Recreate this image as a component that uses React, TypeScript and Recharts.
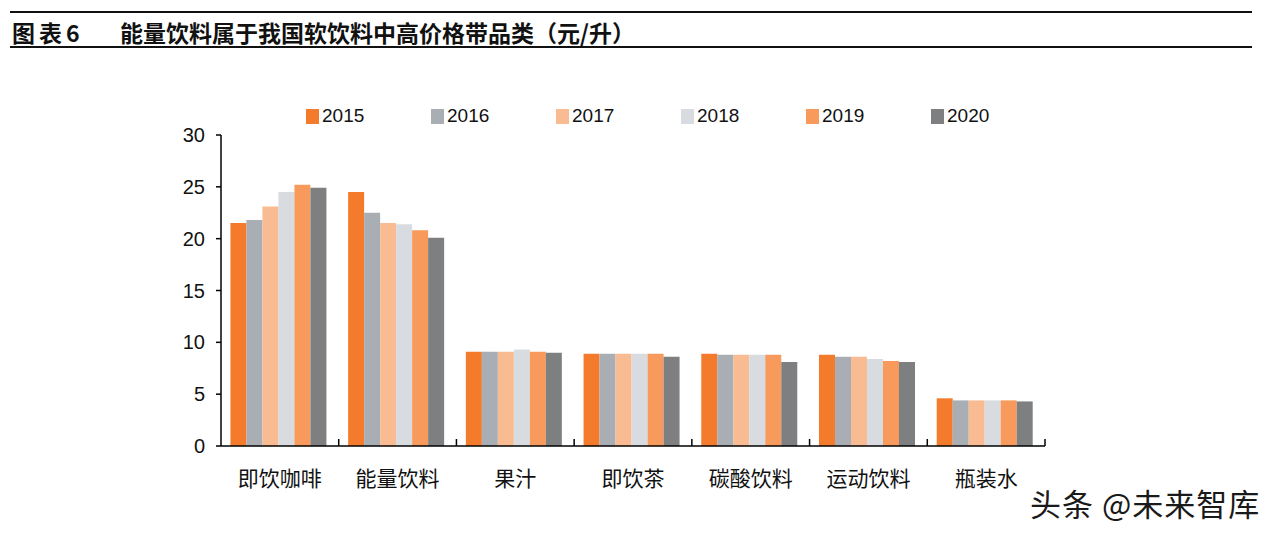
import React from 'react'
import { BarChart, Bar, XAxis, YAxis } from 'recharts'

const categories = ['即饮咖啡', '能量饮料', '果汁', '即饮茶', '碳酸饮料', '运动饮料', '瓶装水']
const years = ['2015', '2016', '2017', '2018', '2019', '2020']
const yTicks = [0, 5, 10, 15, 20, 25, 30]

// 每个年份一组价格（元/升），顺序同 categories
const price2015 = [21.5, 24.5, 9.1, 8.9, 8.9, 8.8, 4.6]
const price2016 = [21.8, 22.5, 9.1, 8.9, 8.8, 8.6, 4.4]
const price2017 = [23.1, 21.5, 9.1, 8.9, 8.8, 8.6, 4.4]
const price2018 = [24.5, 21.4, 9.3, 8.9, 8.8, 8.4, 4.4]
const price2019 = [25.2, 20.8, 9.1, 8.9, 8.8, 8.2, 4.4]
const price2020 = [24.9, 20.1, 9.0, 8.6, 8.1, 8.1, 4.3]

const series = [price2015, price2016, price2017, price2018, price2019, price2020]
const colors = ['#F47B2C', '#A8AEB4', '#F9BC92', '#D8DBDF', '#F79A5B', '#7E7F81']

const data = categories.map((name, i) => {
  const row: { [key: string]: any } = { name }
  years.forEach((y, j) => { row[y] = series[j][i] })
  return row
})

const FONT = '"Liberation Sans", Arial, "Noto Sans CJK SC", sans-serif'
const CJK = '"Noto Sans CJK SC", sans-serif'

const CategoryTick = (props: any) => {
  const { x, y, payload } = props
  const half = payload && payload.offset ? payload.offset : 58.9
  return (
    <g>
      <line x1={x + half} x2={x + half} y1={y} y2={y - 7} stroke="#000" strokeWidth={1.5} />
      <text x={x} y={y + 40} textAnchor="middle" fontSize={21} fill="#111" fontFamily={CJK}>
        {payload.value}
      </text>
    </g>
  )
}

export default function App() {
  return (
    <div style={{ position: 'absolute', left: 0, top: 0, width: 1282, height: 538, background: '#fff', fontFamily: FONT }}>
      <div style={{ position: 'absolute', left: 10, top: 11, width: 1242, height: 2, background: '#111' }} />
      <div style={{ position: 'absolute', left: 12, top: 18, fontSize: 23, fontWeight: 'bold', color: '#111', fontFamily: CJK, lineHeight: '28px', letterSpacing: 4 }}>
        图表6
      </div>
      <div style={{ position: 'absolute', left: 120, top: 18, fontSize: 23, fontWeight: 'bold', color: '#111', fontFamily: CJK, lineHeight: '28px' }}>
        能量饮料属于我国软饮料中高价格带品类（元/升）
      </div>
      <div style={{ position: 'absolute', left: 10, top: 46, width: 1242, height: 1.5, background: '#111' }} />

      {/* 图例 */}
      <div style={{ position: 'absolute', left: 306, top: 105, display: 'flex', fontSize: 19, color: '#111' }}>
        {years.map((y, i) => (
          <div key={y} style={{ width: 125, display: 'flex', alignItems: 'center' }}>
            <span style={{ width: 13, height: 15, background: colors[i], display: 'inline-block', marginRight: 3 }} />
            <span>{y}</span>
          </div>
        ))}
      </div>

      <BarChart
        width={1282}
        height={538}
        data={data}
        margin={{ top: 135, right: 237, bottom: 62, left: 161 }}
        barCategoryGap="8%"
        barGap={0}
        style={{ position: 'absolute', left: 0, top: 0 }}
      >
        <XAxis
          dataKey="name"
          height={30}
          axisLine={{ stroke: '#000', strokeWidth: 1.5 }}
          tickLine={false}
          tickSize={0}
          tickMargin={0}
          interval={0}
          tick={<CategoryTick />}
        />
        <YAxis
          width={60}
          domain={[0, 30]}
          ticks={yTicks}
          interval={0}
          axisLine={{ stroke: '#000', strokeWidth: 1.5 }}
          tickLine={{ stroke: '#000', strokeWidth: 1.5 }}
          tickSize={5}
          tickMargin={11}
          tick={{ fontSize: 20, fill: '#111', fontFamily: FONT }}
        />
        {years.map((y, i) => (
          <Bar key={y} dataKey={y} fill={colors[i]} isAnimationActive={false} />
        ))}
      </BarChart>

      <div style={{ position: 'absolute', left: 1030, top: 484, fontSize: 31, letterSpacing: 1, color: '#1a1a1a', fontFamily: CJK, textShadow: '1px 1px 0 #fff, -1px -1px 0 #fff', whiteSpace: 'nowrap', lineHeight: '38px' }}>
        头条 @未来智库
      </div>
    </div>
  )
}
